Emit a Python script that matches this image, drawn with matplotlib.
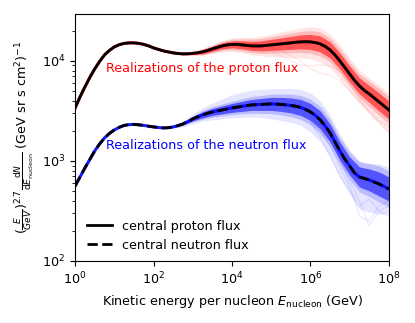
import matplotlib

matplotlib.use("Agg")
import matplotlib.pyplot as plt
import numpy as np

plt.rcParams["font.size"] = 9.2

# log10 of kinetic energy per nucleon (GeV)
log_e = np.arange(0, 8.001, 0.125)       # central curves
log_e_band = np.arange(0, 8.001, 0.25)   # realization spread

# central fluxes, log10 of E^2.7 dN/dE
proton_log = [3.53, 3.64, 3.74, 3.835, 3.92, 3.995, 4.06, 4.105, 4.14, 4.162, 4.175,
              4.18, 4.18, 4.175, 4.165, 4.15, 4.13, 4.115, 4.10, 4.09, 4.08, 4.074,
              4.07, 4.071, 4.075, 4.081, 4.09, 4.104, 4.12, 4.136, 4.15, 4.16, 4.165,
              4.164, 4.16, 4.155, 4.15, 4.149, 4.15, 4.155, 4.16, 4.165, 4.17, 4.175,
              4.18, 4.186, 4.19, 4.192, 4.19, 4.183, 4.17, 4.145, 4.11, 4.06, 4.00,
              3.935, 3.87, 3.805, 3.75, 3.705, 3.67, 3.63, 3.59, 3.55, 3.51]
neutron_log = [2.75, 2.84, 2.93, 3.015, 3.10, 3.17, 3.23, 3.275, 3.31, 3.336, 3.355,
               3.363, 3.365, 3.361, 3.355, 3.347, 3.34, 3.334, 3.33, 3.332, 3.34, 3.353,
               3.37, 3.393, 3.42, 3.441, 3.46, 3.476, 3.49, 3.50, 3.51, 3.52, 3.53,
               3.538, 3.545, 3.553, 3.56, 3.563, 3.565, 3.568, 3.57, 3.568, 3.565, 3.56,
               3.555, 3.547, 3.535, 3.515, 3.49, 3.455, 3.41, 3.35, 3.28, 3.19, 3.10,
               3.02, 2.95, 2.88, 2.84, 2.825, 2.81, 2.79, 2.77, 2.745, 2.72]

# spread of the realizations around the central curve (dex), 0.25 dex grid
proton_in = [0] * 11 + [0.005, 0.01, 0.02, 0.025, 0.03, 0.035, 0.04, 0.045, 0.05, 0.055,
                        0.06, 0.065, 0.07, 0.075, 0.08, 0.08, 0.08, 0.08, 0.08, 0.085, 0.09, 0.09]
proton_out_hi = [0] * 11 + [0.01, 0.02, 0.035, 0.045, 0.055, 0.065, 0.075, 0.085, 0.095, 0.11,
                            0.12, 0.13, 0.14, 0.15, 0.16, 0.16, 0.16, 0.16, 0.16, 0.16, 0.17, 0.17]
proton_out_lo = [0] * 11 + [0.01, 0.02, 0.035, 0.045, 0.06, 0.07, 0.08, 0.09, 0.10, 0.12,
                            0.13, 0.15, 0.16, 0.17, 0.18, 0.18, 0.18, 0.18, 0.18, 0.19, 0.21, 0.23]
neutron_in = [0] * 10 + [0.005, 0.01, 0.02, 0.03, 0.035, 0.04, 0.045, 0.05, 0.055, 0.06, 0.065,
                         0.07, 0.075, 0.08, 0.085, 0.09, 0.09, 0.09, 0.09, 0.10, 0.11, 0.12, 0.12]
neutron_out_hi = [0] * 10 + [0.01, 0.03, 0.05, 0.07, 0.09, 0.11, 0.13, 0.14, 0.15, 0.15, 0.15,
                             0.16, 0.17, 0.18, 0.19, 0.19, 0.18, 0.17, 0.16, 0.16, 0.16, 0.20, 0.22]
neutron_out_lo = [0] * 10 + [0.01, 0.03, 0.05, 0.06, 0.08, 0.09, 0.10, 0.11, 0.12, 0.13, 0.15,
                             0.16, 0.17, 0.18, 0.20, 0.22, 0.24, 0.26, 0.28, 0.32, 0.32, 0.30, 0.25]

# a few stray realizations (log10 flux)
proton_stray_log_e = np.arange(5.0, 8.001, 0.25)
proton_stray = [
    [4.10, 4.05, 4.00, 3.96, 3.95, 3.96, 3.95, 3.90, 3.78, 3.62, 3.48, 3.38, 3.28],
    [4.12, 4.10, 4.05, 4.00, 3.92, 3.88, 3.86, 3.80, 3.70, 3.60, 3.50, 3.40, 3.35],
]
neutron_stray_log_e = np.arange(6.0, 8.001, 0.25)
neutron_stray = [
    [3.40, 3.30, 3.15, 2.95, 2.75, 2.45, 2.40, 2.55, 2.60],
    [3.45, 3.36, 3.22, 3.02, 2.80, 2.60, 2.35, 2.50, 2.45],
    [3.38, 3.25, 3.05, 2.85, 2.70, 2.55, 2.62, 2.50, 2.55],
]

energy = 10.0 ** log_e
energy_band = 10.0 ** log_e_band


def draw_band(ax, central, inner, out_hi, out_lo, stray_x, stray, color):
    c_fine = np.asarray(central)
    c = c_fine[::2]
    inner = np.asarray(inner)
    ax.fill_between(energy_band, 10 ** (c - np.asarray(out_lo)), 10 ** (c + np.asarray(out_hi)),
                    color=color, alpha=0.10, lw=0)
    ax.fill_between(energy_band, 10 ** (c - inner * 1.5), 10 ** (c + inner * 1.5),
                    color=color, alpha=0.18, lw=0)
    ax.fill_between(energy_band, 10 ** (c - inner), 10 ** (c + inner),
                    color=color, alpha=0.55, lw=0)
    for s in stray:
        ax.plot(10.0 ** stray_x, 10.0 ** np.asarray(s), color=color, lw=1, alpha=0.08)
    ax.plot(energy, 10 ** c_fine, color=color, lw=2.2, alpha=0.9)


fig = plt.figure(figsize=(4.15, 3.23), dpi=100)
ax = fig.add_axes([0.181, 0.192, 0.756, 0.765])

draw_band(ax, proton_log, proton_in, proton_out_hi, proton_out_lo,
          proton_stray_log_e, proton_stray, "red")
draw_band(ax, neutron_log, neutron_in, neutron_out_hi, neutron_out_lo,
          neutron_stray_log_e, neutron_stray, "blue")

ax.plot(energy, 10.0 ** np.asarray(proton_log), "-", color="black", lw=2, label="central proton flux")
ax.plot(energy, 10.0 ** np.asarray(neutron_log), "--", color="black", lw=2, label="central neutron flux")

ax.text(0.10, 0.777, "Realizations of the proton flux", color="red",
        transform=ax.transAxes, va="center")
ax.text(0.10, 0.466, "Realizations of the neutron flux", color="blue",
        transform=ax.transAxes, va="center")

ax.set_xscale("log")
ax.set_yscale("log")
ax.set_xlim(1, 1e8)
ax.set_ylim(1e2, 2.95e4)
ax.set_xticks([1, 1e2, 1e4, 1e6, 1e8])
ax.xaxis.set_minor_locator(matplotlib.ticker.NullLocator())
ax.set_xlabel(r"Kinetic energy per nucleon $E_{\rm nucleon}$ (GeV)")
ax.set_ylabel(r"$(\frac{E}{GeV})^{2.7}\frac{\mathrm{d}N}{\mathrm{d}E_{\rm nucleon}}$ (GeV sr s cm$^2$)$^{-1}$")
ax.legend(loc="lower left", frameon=False, bbox_to_anchor=(0.0, -0.01))

fig.savefig("out.png", dpi=100)
